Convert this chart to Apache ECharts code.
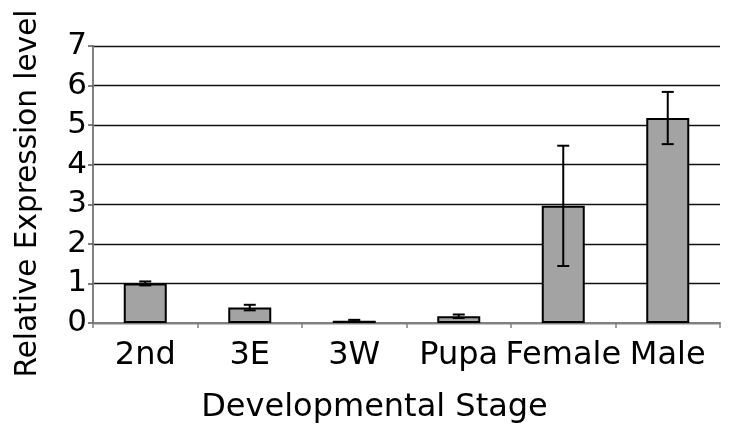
<!DOCTYPE html>
<html>
<head>
<meta charset="utf-8">
<script src="https://cdn.jsdelivr.net/npm/echarts@6/dist/echarts.min.js"></script>
<style>
html,body{margin:0;padding:0;background:#fff;}
#chart{width:729px;height:426px;}
</style>
</head>
<body>
<div id="chart"></div>
<script>
var categories = ['2nd', '3E', '3W', 'Pupa', 'Female', 'Male'];
var values = [1.00, 0.39, 0.06, 0.17, 2.96, 5.18];
var errors = [0.05, 0.07, 0.02, 0.045, 1.52, 0.66];
var yTicks = [0, 1, 2, 3, 4, 5, 6, 7];

var errData = categories.map(function (c, i) {
  return [i, values[i] - errors[i], values[i] + errors[i]];
});

var FONT = 'DejaVu Sans';
var chart = echarts.init(document.getElementById('chart'));
chart.setOption({
  animation: false,
  backgroundColor: '#fff',
  grid: { left: 93, right: 9, top: 46, bottom: 103, containLabel: false, outerBoundsMode: 'none' },
  xAxis: {
    type: 'category',
    data: categories,
    name: 'Developmental Stage',
    nameLocation: 'middle',
    nameGap: 69,
    nameTextStyle: { fontFamily: FONT, fontSize: 32, color: '#000', padding: [0, 64, 0, 0] },
    axisLine: { lineStyle: { color: '#808080', width: 2 } },
    axisTick: { show: true, length: 5, lineStyle: { color: '#808080', width: 1.5 } },
    axisLabel: { fontFamily: FONT, fontSize: 32, color: '#000', margin: 17, interval: 0 },
    splitLine: { show: false }
  },
  yAxis: {
    type: 'value',
    min: yTicks[0],
    max: yTicks[yTicks.length - 1],
    interval: 1,
    name: 'Relative Expression level',
    nameLocation: 'middle',
    nameGap: 50,
    nameTextStyle: { fontFamily: FONT, fontSize: 29.5, color: '#000', padding: [0, 18, 0, 0] },
    axisLine: { show: true, lineStyle: { color: '#808080', width: 2 } },
    axisTick: { show: true, length: 5, lineStyle: { color: '#555', width: 1.5 } },
    axisLabel: { fontFamily: FONT, fontSize: 31, color: '#000', margin: 6 },
    splitLine: { show: true, lineStyle: { color: '#111', width: 1.3 } }
  },
  series: [
    {
      type: 'bar',
      data: values,
      barWidth: 43,
      itemStyle: { color: '#a3a3a3', borderColor: '#000', borderWidth: 2 },
      z: 2
    },
    {
      type: 'custom',
      data: errData,
      z: 3,
      renderItem: function (params, api) {
        var x = api.value(0);
        var lo = api.coord([x, api.value(1)]);
        var hi = api.coord([x, api.value(2)]);
        var half = 6;
        var style = { stroke: '#000', lineWidth: 2 };
        return {
          type: 'group',
          children: [
            { type: 'line', shape: { x1: lo[0], y1: lo[1], x2: hi[0], y2: hi[1] }, style: style },
            { type: 'line', shape: { x1: hi[0] - half, y1: hi[1], x2: hi[0] + half, y2: hi[1] }, style: style },
            { type: 'line', shape: { x1: lo[0] - half, y1: lo[1], x2: lo[0] + half, y2: lo[1] }, style: style }
          ]
        };
      }
    }
  ]
});
</script>
</body>
</html>
